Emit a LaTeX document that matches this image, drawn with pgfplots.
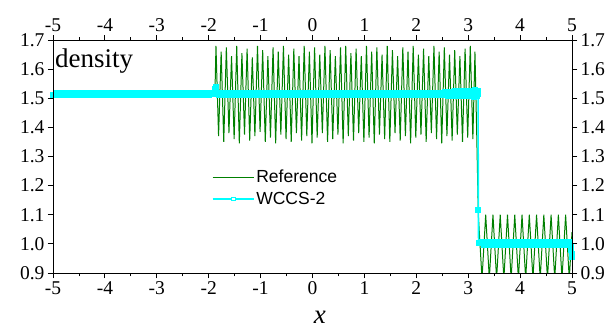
\documentclass[border=0pt]{standalone}
\usepackage{pgfplots}
\pgfplotsset{compat=1.18}
\usepackage{fontspec}
\setmainfont{Liberation Serif}
\newfontfamily\legendfont{Liberation Sans}
\definecolor{refgreen}{RGB}{0,128,0}
\definecolor{wcyan}{RGB}{0,255,255}
\pgfplotsset{
  common/.style={
    at={(0,0)}, anchor=south west,
    scale only axis, width=519bp, height=233bp,
    xmin=-5, xmax=5, ymin=0.9, ymax=1.7,
    xtick={-5,-4,-3,-2,-1,0,1,2,3,4,5}, minor x tick num=1,
    ytick={0.9,1.0,1.1,1.2,1.3,1.4,1.5,1.6,1.7},
    tick align=outside,
    major tick length=5bp, minor tick length=3bp,
    axis line style={line width=0.9pt},
    every tick/.style={black, line width=0.9pt},
    tick label style={font=\rmfamily\fontsize{19.5bp}{22bp}\selectfont},
    /pgf/number format/assume math mode=true,
    y tick label style={/pgf/number format/.cd, fixed, fixed zerofill, precision=1},
  }
}
\begin{document}
\begin{tikzpicture}
\path[use as bounding box] (-53bp,-56bp) rectangle (563bp,273bp);
\begin{axis}[common,
  xlabel={\textit{x}},
  xlabel style={at={(axis description cs:0.514,0)}, anchor=base, yshift=-50bp, font=\rmfamily\fontsize{27bp}{30bp}\selectfont, inner sep=0pt},
  legend style={draw=none, fill=none, at={(0.306,0.452)}, anchor=north west,
    font=\legendfont\fontsize{17.5bp}{20bp}\selectfont, row sep=4bp, inner sep=0pt},
  legend cell align=left,
  legend image code/.code={\draw[mark repeat=2,mark phase=2,#1] plot coordinates {(0bp,0bp) (20.5bp,0bp) (41bp,0bp)};},
]
\addplot[refgreen, line width=1pt, no markers, legend image post style={line width=0.7pt}] coordinates {
(-5.00,1.515)(-1.88,1.515)
(-1.86,1.68)(-1.81,1.37)(-1.76,1.66)(-1.71,1.35)(-1.66,1.675)(-1.61,1.38)(-1.56,1.645)(-1.51,1.36)(-1.46,1.68)(-1.41,1.345)
(-1.36,1.655)(-1.31,1.375)(-1.26,1.67)(-1.21,1.355)(-1.16,1.64)(-1.11,1.37)(-1.06,1.68)(-1.01,1.385)(-0.96,1.665)(-0.91,1.35)
(-0.86,1.645)(-0.81,1.365)(-0.76,1.675)(-0.71,1.345)(-0.66,1.66)(-0.61,1.375)(-0.56,1.68)(-0.51,1.36)(-0.46,1.65)(-0.41,1.35)
(-0.36,1.67)(-0.31,1.38)(-0.26,1.645)(-0.21,1.355)(-0.16,1.68)(-0.11,1.37)(-0.06,1.66)(-0.01,1.345)(0.04,1.675)(0.09,1.365)
(0.14,1.65)(0.19,1.38)(0.24,1.68)(0.29,1.35)(0.34,1.665)(0.39,1.36)(0.44,1.645)(0.49,1.375)(0.54,1.675)(0.59,1.345)
(0.64,1.68)(0.69,1.37)(0.74,1.655)(0.79,1.355)(0.84,1.67)(0.89,1.38)(0.94,1.645)(0.99,1.35)(1.04,1.68)(1.09,1.365)
(1.14,1.66)(1.19,1.345)(1.24,1.675)(1.29,1.375)(1.34,1.65)(1.39,1.36)(1.44,1.68)(1.49,1.35)(1.54,1.665)(1.59,1.38)
(1.64,1.645)(1.69,1.355)(1.74,1.675)(1.79,1.37)(1.84,1.66)(1.89,1.345)(1.94,1.68)(1.99,1.365)(2.04,1.65)(2.09,1.375)
(2.14,1.67)(2.19,1.35)(2.24,1.645)(2.29,1.38)(2.34,1.68)(2.39,1.36)(2.44,1.66)(2.49,1.345)(2.54,1.675)(2.59,1.37)
(2.64,1.65)(2.69,1.355)(2.74,1.665)(2.79,1.375)(2.84,1.645)(2.89,1.35)(2.94,1.67)(2.99,1.365)(3.04,1.68)(3.09,1.36)
(3.13,1.66)(3.165,1.37)
(3.195,1.10)(3.266,0.88)(3.337,1.10)(3.407,0.88)(3.477,1.10)(3.547,0.88)(3.617,1.10)(3.687,0.88)(3.757,1.10)(3.827,0.88)
(3.897,1.10)(3.967,0.88)(4.037,1.10)(4.107,0.88)(4.177,1.10)(4.247,0.88)(4.317,1.10)(4.387,0.88)(4.457,1.10)(4.527,0.88)
(4.597,1.10)(4.667,0.88)(4.737,1.10)(4.807,0.88)(4.877,1.10)(4.947,0.88)(5.00,1.04)
};
\addlegendentry{Reference}
\addplot[wcyan, line width=1.6pt, mark=square*, mark size=2.5bp, mark options={solid, line width=0.8pt, fill=wcyan},
  legend image post style={mark=square*, mark size=1.8bp, line width=1.3pt, mark options={fill=white, line width=0.8pt}}] coordinates {
(-5.00,1.510)(-4.95,1.520)(-4.90,1.510)(-4.85,1.520)(-4.80,1.510)(-4.75,1.520)(-4.70,1.510)(-4.65,1.520)(-4.60,1.510)(-4.55,1.520)
(-4.50,1.510)(-4.45,1.520)(-4.40,1.510)(-4.35,1.520)(-4.30,1.510)(-4.25,1.520)(-4.20,1.510)(-4.15,1.520)(-4.10,1.510)(-4.05,1.520)
(-4.00,1.510)(-3.95,1.520)(-3.90,1.510)(-3.85,1.520)(-3.80,1.510)(-3.75,1.520)(-3.70,1.510)(-3.65,1.520)(-3.60,1.510)(-3.55,1.520)
(-3.50,1.510)(-3.45,1.520)(-3.40,1.510)(-3.35,1.520)(-3.30,1.510)(-3.25,1.520)(-3.20,1.510)(-3.15,1.520)(-3.10,1.510)(-3.05,1.520)
(-3.00,1.510)(-2.95,1.520)(-2.90,1.510)(-2.85,1.520)(-2.80,1.510)(-2.75,1.520)(-2.70,1.510)(-2.65,1.520)(-2.60,1.510)(-2.55,1.520)
(-2.50,1.510)(-2.45,1.520)(-2.40,1.510)(-2.35,1.520)(-2.30,1.510)(-2.25,1.520)(-2.20,1.510)(-2.15,1.520)(-2.10,1.510)(-2.05,1.520)
(-2.00,1.510)(-1.95,1.520)(-1.91,1.514)(-1.885,1.532)(-1.87,1.540)(-1.855,1.532)(-1.83,1.518)
(-1.80,1.510)(-1.75,1.520)(-1.70,1.510)(-1.65,1.520)(-1.60,1.510)(-1.55,1.520)(-1.50,1.510)(-1.45,1.520)(-1.40,1.510)(-1.35,1.520)
(-1.30,1.510)(-1.25,1.520)(-1.20,1.510)(-1.15,1.520)(-1.10,1.510)(-1.05,1.520)(-1.00,1.510)(-0.95,1.520)(-0.90,1.510)(-0.85,1.520)
(-0.80,1.510)(-0.75,1.520)(-0.70,1.510)(-0.65,1.520)(-0.60,1.510)(-0.55,1.520)(-0.50,1.510)(-0.45,1.520)(-0.40,1.510)(-0.35,1.520)
(-0.30,1.510)(-0.25,1.520)(-0.20,1.510)(-0.15,1.520)(-0.10,1.510)(-0.05,1.520)(0.00,1.510)(0.05,1.520)(0.10,1.510)(0.15,1.520)
(0.20,1.510)(0.25,1.520)(0.30,1.510)(0.35,1.520)(0.40,1.510)(0.45,1.520)(0.50,1.510)(0.55,1.520)(0.60,1.510)(0.65,1.520)
(0.70,1.510)(0.75,1.520)(0.80,1.510)(0.85,1.520)(0.90,1.510)(0.95,1.520)(1.00,1.510)(1.05,1.520)(1.10,1.510)(1.15,1.520)
(1.20,1.510)(1.25,1.520)(1.30,1.510)(1.35,1.520)(1.40,1.510)(1.45,1.520)(1.50,1.510)(1.55,1.520)(1.60,1.510)(1.65,1.520)
(1.70,1.510)(1.75,1.520)(1.80,1.510)(1.85,1.520)(1.90,1.510)(1.95,1.520)(2.00,1.510)(2.05,1.520)(2.10,1.510)(2.15,1.520)
(2.20,1.510)(2.25,1.520)(2.30,1.510)(2.35,1.520)(2.40,1.510)(2.45,1.520)(2.50,1.510)
(2.55,1.522)(2.60,1.509)(2.65,1.523)(2.70,1.508)(2.75,1.524)(2.80,1.508)(2.85,1.525)(2.90,1.507)(2.95,1.525)(3.00,1.507)
(3.05,1.526)(3.10,1.506)(3.13,1.527)(3.16,1.507)(3.18,1.525)(3.19,1.515)(3.195,1.115)(3.20,1.003)
(3.25,1.006)(3.30,0.996)(3.35,1.006)(3.40,0.996)(3.45,1.006)(3.50,0.996)(3.55,1.006)(3.60,0.996)(3.65,1.006)(3.70,0.996)
(3.75,1.006)(3.80,0.996)(3.85,1.006)(3.90,0.996)(3.95,1.006)(4.00,0.996)(4.05,1.006)(4.10,0.996)(4.15,1.006)(4.20,0.996)
(4.25,1.006)(4.30,0.996)(4.35,1.006)(4.40,0.996)(4.45,1.006)(4.50,0.996)(4.55,1.006)(4.60,0.996)(4.65,1.006)(4.70,0.996)
(4.75,1.006)(4.80,0.996)(4.85,1.006)(4.90,0.996)(4.95,1.006)(4.97,0.990)(4.98,0.978)(4.99,0.967)(5.00,0.957)
};
\addlegendentry{WCCS-2}
\node[anchor=base west, inner sep=0pt, font=\rmfamily\fontsize{27bp}{30bp}\selectfont] at (axis cs:-4.965,1.604) {density};
\end{axis}
\begin{axis}[common, xticklabel pos=upper, yticklabel pos=right]
\end{axis}
\end{tikzpicture}
\end{document}
